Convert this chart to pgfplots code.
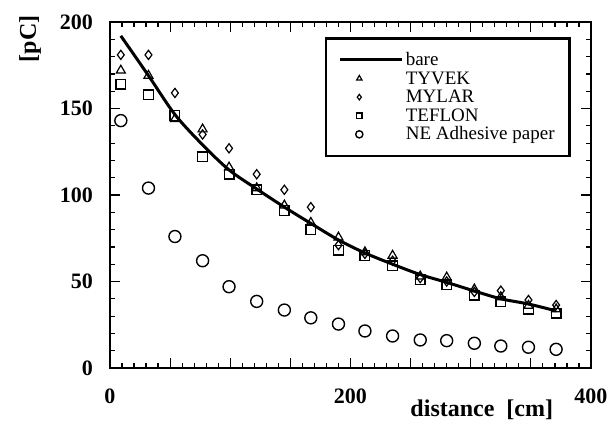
\documentclass[border=0pt]{standalone}
\usepackage{fontspec}
\setmainfont{Liberation Serif}
\usepackage{pgfplots}
\pgfplotsset{compat=1.18}

\pgfplotsset{
    linelegend/.style={legend image code/.code={\draw[##1] (0pt,0pt) -- (31pt,0pt);}},
    marklegend/.style={legend image code/.code={\draw[##1, every mark/.append style={scale=0.6}, mark repeat=1] plot coordinates {(9.5pt,0pt)};}},
}

% distance [cm] and charge [pC]
\pgfplotstableread{
x    bare   tyvek  mylar  teflon  ne
9    192    172    181    164     143
32   169    169    181    158     104
54   146.5  144    159    146     76
77   129    138    135    122     62
99   114.5  116    127    112     47
122  103.5  104    112    103     38.5
145  93     94     103    91      33.5
167  83.6   84     93     80      29
190  74     75.5   71     68      25.4
212  66.5   67     66     65      21.4
235  60     65     62     59      18.5
258  54     53     52     51      16.2
280  49.5   52.4   50     48      15.8
303  44.5   45.5   44     42      14.3
325  40     41     44.7   38.3    12.7
348  37     36     39.3   34      12
371  33     34     36.4   31.6    10.8
}\datatable

\begin{document}
\begin{tikzpicture}
\begin{axis}[
    scale only axis,
    width=240.5pt, height=173pt,
    xmin=0, xmax=400, ymin=0, ymax=200,
    xtick={0,50,...,400},
    xticklabels={0,,,,200,,,,400},
    ytick={0,50,...,200},
    minor x tick num=4, minor y tick num=4,
    tick align=inside,
    major tick length=5pt, minor tick length=2.5pt,
    every tick/.style={line width=0.6pt, black},
    axis line style={line width=1.3pt},
    /pgf/number format/assume math mode=true,
    ticklabel style={font=\bfseries\fontsize{11}{11}\selectfont},
    xticklabel style={yshift=-7pt},
    yticklabel style={xshift=-5pt},
    xlabel={distance\ \ [cm]},
    ylabel={[pC]},
    label style={font=\bfseries\fontsize{12}{12}\selectfont},
    xlabel style={at={(axis description cs:0.773,-0.1214)}, anchor=center},
    ylabel style={at={(axis description cs:-0.1663,0.951)}, anchor=center},
    legend cell align=left,
    legend style={at={(rel axis cs:0.958,0.956)}, anchor=north east,
        line width=1.2pt, inner xsep=6.5pt, inner ysep=5.5pt,
        font=\fontsize{9.5}{9.5}\selectfont,
        row sep=-1.2pt,
        nodes={inner sep=1pt, text height=7pt, text depth=1.5pt}},
    clip=false,
]
\addplot[black, line width=1.5pt, smooth, no markers, linelegend]
    table[x=x, y=bare] {\datatable};
\addlegendentry{bare}

\addplot[only marks, mark=triangle, mark size=2.6pt, black, line width=0.6pt, marklegend]
    table[x=x, y=tyvek] {\datatable};
\addlegendentry{TYVEK}

\addplot[only marks, mark=diamond, mark size=2.3pt, black, line width=0.6pt, marklegend]
    table[x=x, y=mylar] {\datatable};
\addlegendentry{MYLAR}

\addplot[only marks, mark=square, mark size=2.4pt, black, line width=0.7pt,
    mark options={rounded corners=0.8pt}, marklegend]
    table[x=x, y=teflon] {\datatable};
\addlegendentry{TEFLON}

\addplot[only marks, mark=o, mark size=3pt, black, line width=0.7pt, marklegend]
    table[x=x, y=ne] {\datatable};
\addlegendentry{NE Adhesive paper\hspace{4.5pt}}
\end{axis}
\pgfresetboundingbox
\path (-55pt,-28.5pt) rectangle (251pt,184pt);
\end{tikzpicture}
\end{document}
